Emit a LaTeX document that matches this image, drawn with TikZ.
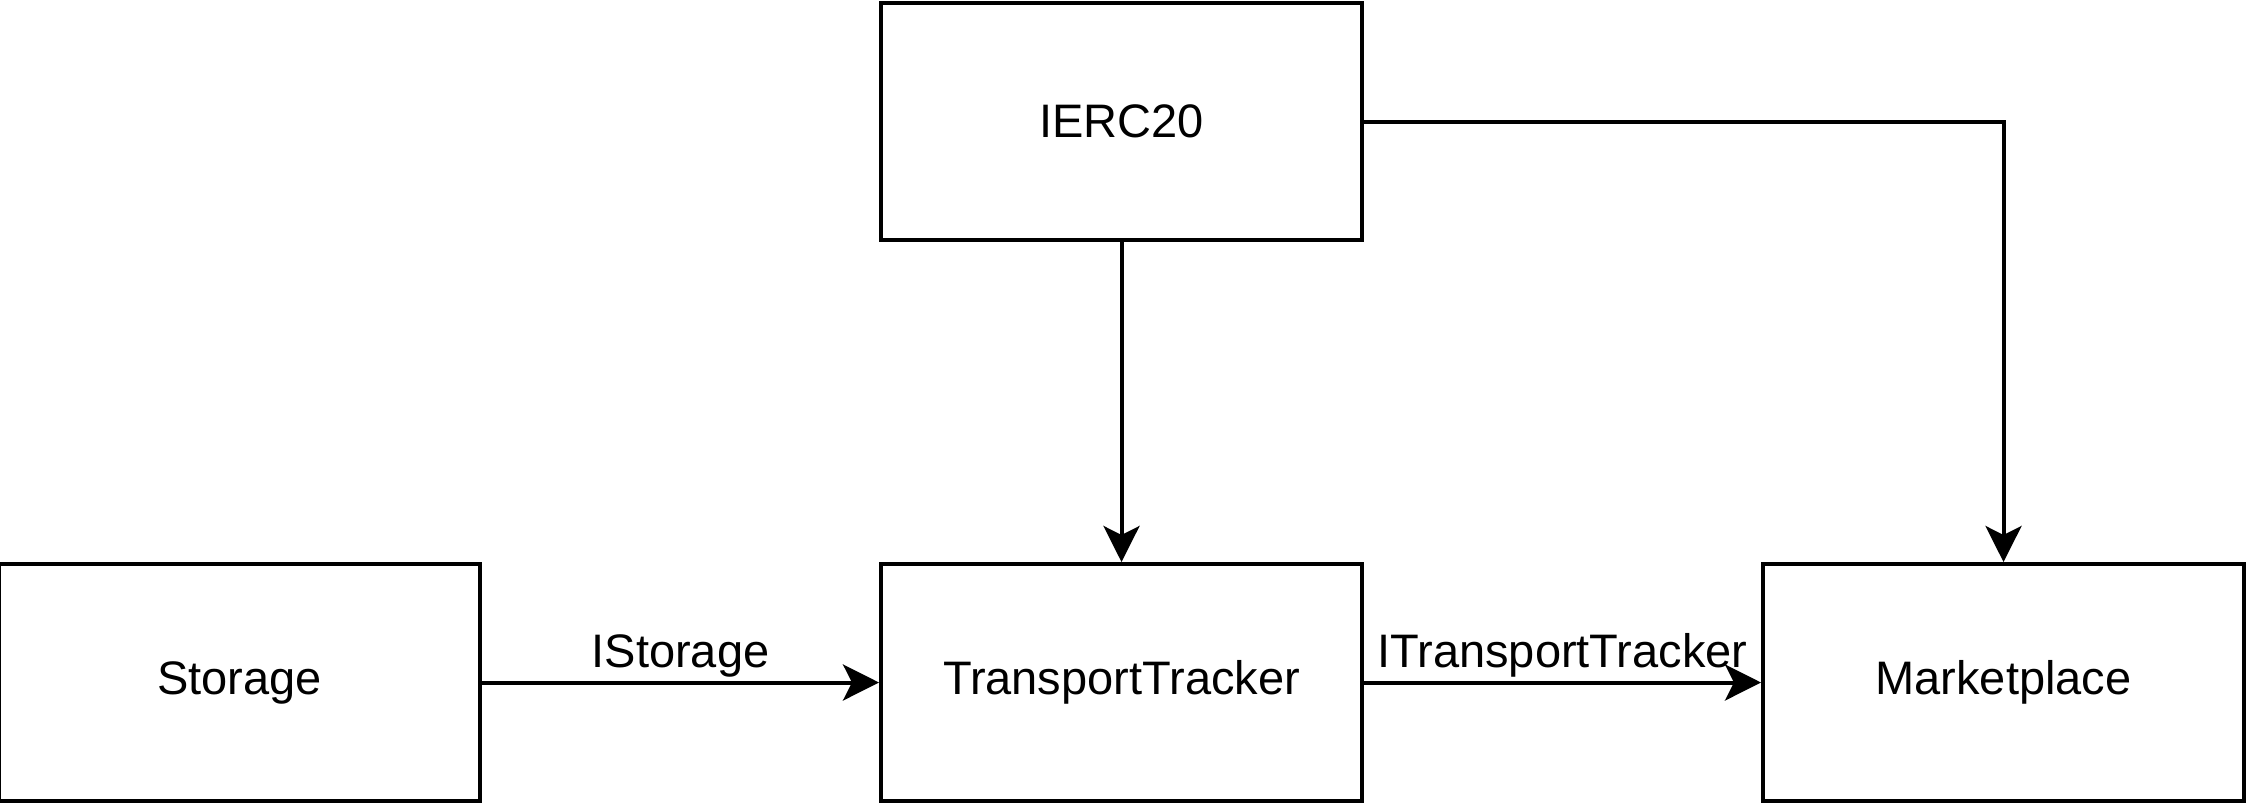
\documentclass[tikz,border=0pt]{standalone}
\usepackage{fontspec}
\setmainfont{Liberation Sans}
\usetikzlibrary{arrows.meta, positioning}
\begin{document}
\begin{tikzpicture}[x=1pt, y=-1pt, node distance=320pt and 397pt, >={Stealth[length=36pt, width=36pt, inset=9pt]},
		block/.style={rectangle, draw=black, line width=4pt, minimum width=481pt, minimum height=237pt, align=center, font=\fontsize{47}{56}\selectfont},
		link/.style={->, line width=4pt, color=black}]
		\useasboundingbox (0,0) rectangle (2248,804);
		
		\node[block] (ierc) at (1121.5,121.5) {IERC20};
		\node[block, below=of ierc] (tracker) {TransportTracker};
		\node[block, left=of tracker] (storage) {Storage};
		\node[block, right=of tracker] (market) {Marketplace};
		
		\draw[link] (ierc) -- (tracker);
		\draw[link] (ierc.east) -| (market.north);
		
		\draw[link] (storage) -- node[above, inner sep=3pt, font=\fontsize{47}{56}\selectfont] {IStorage} (tracker);
		\draw[link] (tracker) -- node[above, inner sep=3pt, font=\fontsize{47}{56}\selectfont] {ITransportTracker} (market);
	\end{tikzpicture}
\end{document}
